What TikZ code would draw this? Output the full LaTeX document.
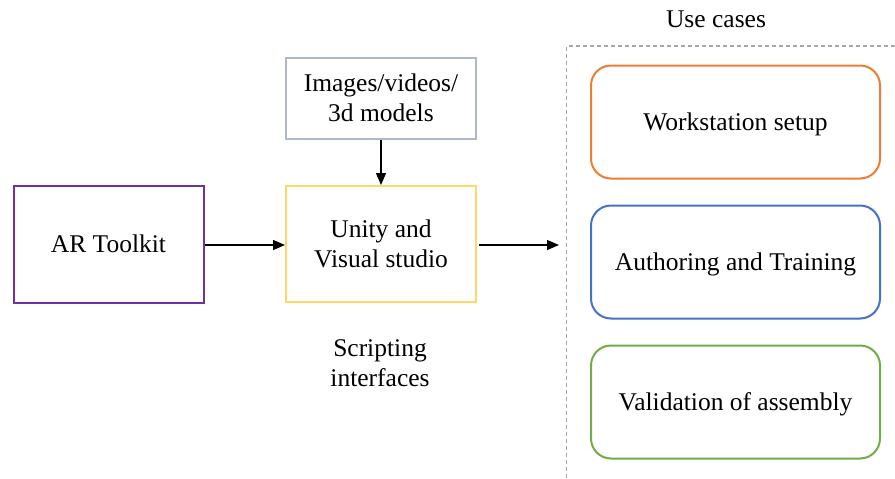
\documentclass[tikz,border=0pt]{standalone}
\usepackage{fontspec}
\setmainfont{Liberation Serif}
\usetikzlibrary{arrows.meta}
\definecolor{cpurple}{HTML}{7030A0}
\definecolor{cyellow}{HTML}{FFD966}
\definecolor{cgrayblue}{HTML}{ADB9CA}
\definecolor{corange}{HTML}{ED7D31}
\definecolor{cblue}{HTML}{4472C4}
\definecolor{cgreen}{HTML}{70AD47}
\definecolor{cdash}{HTML}{A6A6A6}
\begin{document}
\begin{tikzpicture}[x=1pt,y=-1pt,
  every node/.style={font=\fontsize{25.5pt}{30pt}\selectfont, align=center, inner sep=0pt},
  plainbox/.style={draw, line width=2pt, minimum width=190pt, text depth=-4pt},
  usebox/.style={draw, line width=2pt, rounded corners=20pt, minimum width=289pt, minimum height=113pt, text depth=-6pt},
  conn/.style={line width=1.3pt, -{Triangle[length=12pt,width=10pt]}}
]
\useasboundingbox (0,0) rectangle (895,479);
\node[plainbox, draw=cpurple, minimum height=117pt] (ar) at (108.5,244) {AR Toolkit};
\node[plainbox, draw=cgrayblue, minimum height=81pt] (img) at (381,98) {Images/videos/\\3d models};
\node[plainbox, draw=cyellow, minimum height=116pt] (unity) at (381,244) {Unity and\\Visual studio};
\node (script) at (380,363) {Scripting\\interfaces};
\node (uc) at (716,19) {Use cases};
\draw[cdash, line width=1.2pt, dashed, dash pattern=on 4pt off 3pt] (895,46) -- (566.5,46) -- (566.5,479);
\node[usebox, draw=corange] (ws) at (735.5,122) {Workstation setup};
\node[usebox, draw=cblue] (at) at (735.5,262) {Authoring and Training};
\node[usebox, draw=cgreen] (va) at (735.5,402) {Validation of assembly};
\coordinate (out) at (559,245);
\draw[conn] (ar.east |- 0,245) -- (unity.west |- 0,245);
\draw[conn] (img.south) -- (unity.north);
\draw[conn] ([xshift=2pt]unity.east |- out) -- (out);
\end{tikzpicture}
\end{document}
